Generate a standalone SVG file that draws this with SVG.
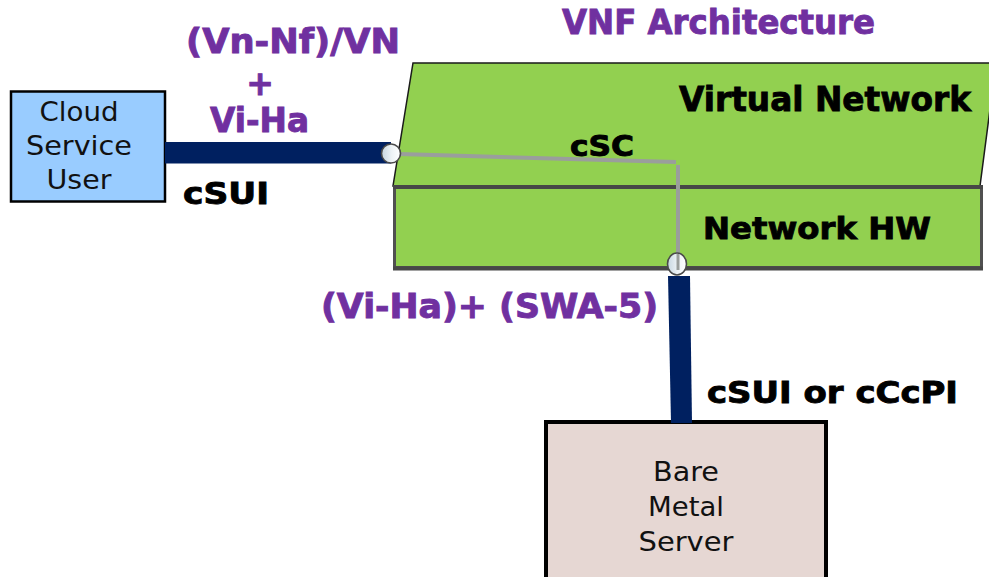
<svg xmlns="http://www.w3.org/2000/svg" width="989" height="577" viewBox="0 0 989 577">
<style>
.lbl{font-family:"DejaVu Sans","Liberation Sans",sans-serif;font-weight:bold;stroke-width:0.9px}
.pur{fill:#7030a0;stroke:#7030a0}
.blk{fill:#000;stroke:#000}
.box{font-family:"DejaVu Sans","Liberation Sans",sans-serif;font-size:27px;fill:#111;text-anchor:middle}
.navy{fill:#002060}
.port{stroke:#4a4a4a;stroke-width:1.6}
</style>
<defs>
<linearGradient id="pg" x1="0" y1="0" x2="1" y2="0">
<stop offset="0" stop-color="#c7d6e0"/>
<stop offset="0.55" stop-color="#eef3f6"/>
<stop offset="1" stop-color="#ffffff"/>
</linearGradient>
</defs>
<rect width="989" height="577" fill="#fff"/>

<text class="lbl pur" x="562" y="34" font-size="33" textLength="313" lengthAdjust="spacingAndGlyphs">VNF Architecture</text>

<g id="virtual-network">
<polygon points="413,63 996,63 980,186 393,186" fill="#92d050" stroke="#1a1a1a" stroke-width="1.5"/>
<text class="lbl blk" x="679" y="111" font-size="34" textLength="292" lengthAdjust="spacingAndGlyphs">Virtual Network</text>
</g>

<g id="network-hw">
<rect x="394.5" y="187.5" width="587" height="80" fill="#92d050" stroke="#505050" stroke-width="3"/>
<line x1="393" y1="268.5" x2="983" y2="268.5" stroke="#474747" stroke-width="4"/>
<line x1="393" y1="187" x2="983" y2="187" stroke="#474747" stroke-width="4"/>
<text class="lbl blk" x="703" y="239" font-size="31" textLength="228" lengthAdjust="spacingAndGlyphs">Network HW</text>
</g>

<g id="cloud-service-user">
<rect x="11" y="91.5" width="154" height="110" fill="#99ccff" stroke="#000" stroke-width="2.5"/>
<text class="box" x="79" y="121" textLength="79" lengthAdjust="spacingAndGlyphs">Cloud</text>
<text class="box" x="79" y="155" textLength="106" lengthAdjust="spacingAndGlyphs">Service</text>
<text class="box" x="79" y="189" textLength="65" lengthAdjust="spacingAndGlyphs">User</text>
</g>

<g id="bare-metal-server">
<rect x="546" y="422" width="280" height="170" fill="#e6d7d3" stroke="#000" stroke-width="4"/>
<text class="box" x="686" y="481" textLength="66" lengthAdjust="spacingAndGlyphs">Bare</text>
<text class="box" x="686" y="516" textLength="76" lengthAdjust="spacingAndGlyphs">Metal</text>
<text class="box" x="686" y="551" textLength="95" lengthAdjust="spacingAndGlyphs">Server</text>
</g>

<g id="connectors">
<rect class="navy" x="165" y="142" width="226" height="21.5"/>
<polygon class="navy" points="668,276 690,276 692,423 671,423"/>
<polyline points="399,154 676,162" fill="none" stroke="#9a9e9c" stroke-width="4"/>
<line x1="678" y1="165" x2="678" y2="262" stroke="#9a9e9c" stroke-width="4"/>
<circle class="port" cx="391" cy="153.5" r="9.5" fill="url(#pg)"/>
<ellipse class="port" cx="677" cy="264" rx="9.5" ry="11" fill="url(#pg)"/>
<line x1="678" y1="254" x2="678" y2="270" stroke="#9a9e9c" stroke-width="3"/>
</g>

<g id="labels">
<text class="lbl pur" x="186" y="53" font-size="33" textLength="214" lengthAdjust="spacingAndGlyphs">(Vn-Nf)/VN</text>
<text class="lbl pur" x="260" y="95" font-size="33" text-anchor="middle">+</text>
<text class="lbl pur" x="210" y="132" font-size="33" textLength="99" lengthAdjust="spacingAndGlyphs">Vi-Ha</text>
<text class="lbl blk" x="183" y="204" font-size="30" textLength="86" lengthAdjust="spacingAndGlyphs">cSUI</text>
<text class="lbl blk" x="570" y="156" font-size="29" textLength="64" lengthAdjust="spacingAndGlyphs">cSC</text>
<text class="lbl pur" x="321" y="318" font-size="33" textLength="337" lengthAdjust="spacingAndGlyphs">(Vi-Ha)+ (SWA-5)</text>
<text class="lbl blk" x="707" y="403" font-size="30" textLength="251" lengthAdjust="spacingAndGlyphs">cSUI or cCcPI</text>
</g>
</svg>
